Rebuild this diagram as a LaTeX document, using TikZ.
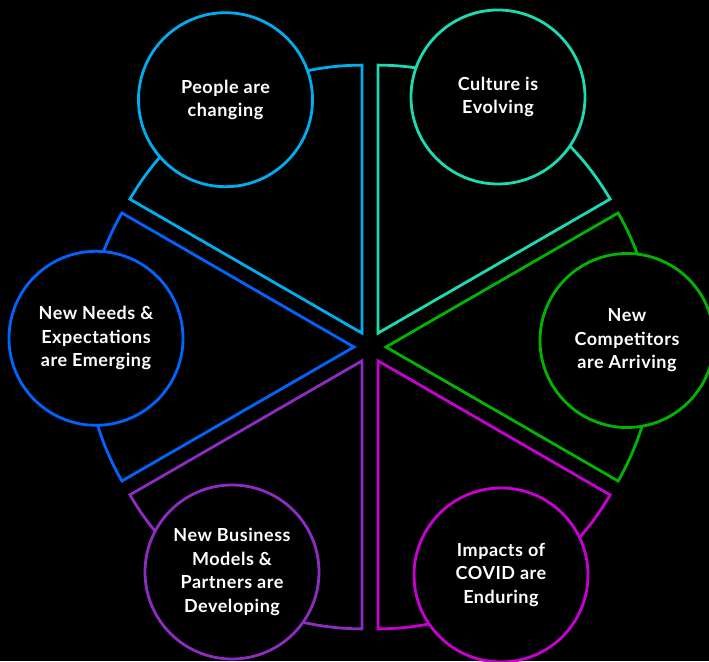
\documentclass[tikz,border=0pt]{standalone}
\usepackage{fontspec}
\setmainfont{Lato}[LetterSpace=3]
\usepackage{tikz}

\definecolor{cpeople}{RGB}{0,174,239}
\definecolor{cculture}{RGB}{28,218,178}
\definecolor{ccompet}{RGB}{0,180,0}
\definecolor{ccovid}{RGB}{200,0,210}
\definecolor{cbusiness}{RGB}{140,44,192}
\definecolor{cneeds}{RGB}{0,100,255}

\tikzset{
  sector/.style={line width=2.8pt, line join=miter},
  bubble/.style={circle, draw=#1, fill=black, line width=2.8pt, minimum size=174pt,
    inner sep=0pt, text=white, align=center,
    font=\bfseries\fontsize{18}{23.5}\selectfont}
}

\begin{document}
\begin{tikzpicture}[x=1pt, y=1pt]
    % Background
    \fill[black] (-370,-314) rectangle (339,347);
    \useasboundingbox (-370,-314) rectangle (339,347);

    % Draw the six sectors, each pushed out a little along its middle
    \foreach \b/\c in {120/cpeople, 60/cculture, 0/ccompet, -60/ccovid, -120/cbusiness, 180/cneeds} {
      \draw[sector, draw=\c] (\b:16) -- ++(\b+30:268)
        arc[start angle=\b+30, end angle=\b-30, radius=268] -- cycle;
    }

    % Circles on the rim
    \node[bubble=cpeople] (people) at (-144.5,247.3) {People are\\changing};
    \node[bubble=cculture] (culture) at (128,250) {Culture is\\Evolving};
    \node[bubble=ccompet] (compet) at (257,6.5) {New\\Competitors\\are Arriving};
    \node[bubble=ccovid] (covid) at (131,-228) {Impacts of\\COVID are\\Enduring};
    \node[bubble=cbusiness] (business) at (-138,-225) {New Business\\Models \&\\Partners are\\Developing};
    \node[bubble=cneeds] (needs) at (-274,8.7) {New Needs \&\\Expectations\\are Emerging};

  \end{tikzpicture}
\end{document}
